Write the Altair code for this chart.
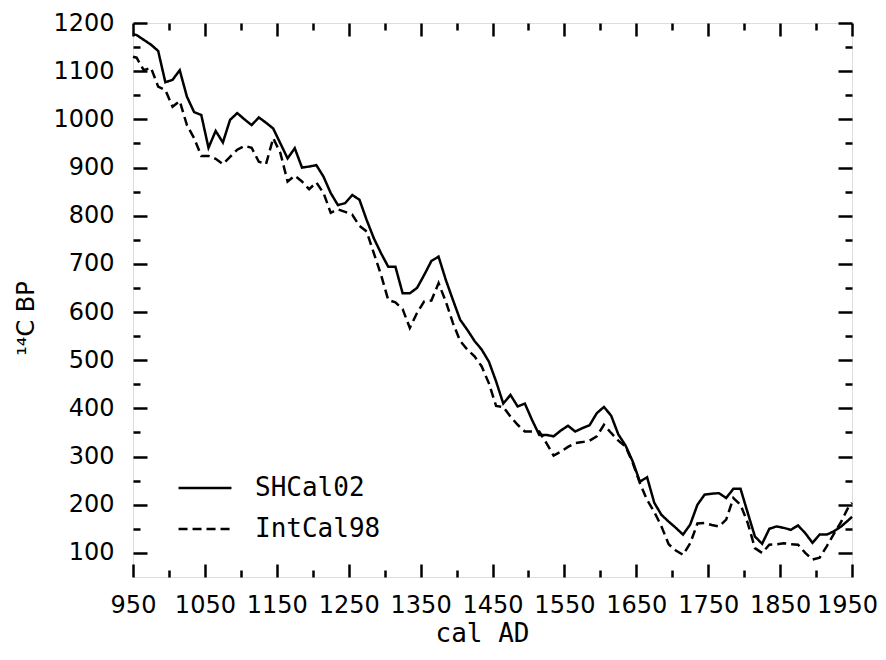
import altair as alt
import pandas as pd

# Calendar years (cal AD) of the curve vertices
years = [950, 955] + list(range(965, 1946, 10)) + [1950]

shcal02 = [
    1177, 1175, 1165, 1155, 1142, 1077, 1082, 1102, 1047, 1015,
    1009, 941, 976, 952, 999, 1013, 1000, 988, 1004, 993,
    981, 950, 919, 940, 900, 902, 905, 881, 847, 822,
    826, 843, 833, 791, 753, 722, 694, 694, 639, 639,
    650, 677, 706, 715, 667, 625, 584, 563, 540, 522,
    497, 456, 410, 428, 404, 410, 376, 345, 345, 342,
    354, 364, 352, 359, 365, 390, 403, 385, 346, 323,
    290, 248, 257, 204, 179, 165, 152, 138, 159, 200,
    221, 223, 224, 214, 233, 233, 183, 134, 119, 150,
    155, 152, 148, 157, 141, 121, 138, 138, 145, 155,
    168, 175,
]

intcal98 = [
    1130, 1128, 1102, 1107, 1068, 1061, 1026, 1038, 988, 961,
    924, 924, 918, 907, 922, 937, 945, 941, 912, 907,
    961, 930, 871, 883, 871, 855, 869, 847, 806, 813,
    808, 802, 779, 767, 722, 677, 625, 620, 606, 567,
    598, 622, 624, 660, 622, 577, 540, 522, 508, 487,
    452, 405, 403, 383, 366, 352, 352, 352, 328, 302,
    310, 320, 328, 330, 333, 342, 366, 349, 333, 321,
    287, 245, 210, 185, 155, 118, 105, 96, 120, 161,
    162, 158, 155, 169, 214, 200, 162, 110, 100, 117,
    118, 120, 118, 117, 100, 86, 90, 114, 140, 165,
    195, 204,
]

series_names = ["SHCal02", "IntCal98"]
x_ticks = list(range(950, 1951, 50))
y_ticks = list(range(100, 1201, 50))

assert len(years) == len(shcal02) == len(intcal98)

rows = []
for name, vals in zip(series_names, [shcal02, intcal98]):
    for yr, v in zip(years, vals):
        rows.append({"year": yr, "c14": v, "series": name})
df = pd.DataFrame(rows)

NUM_FONT = "DejaVu Sans"
MONO_FONT = "DejaVu Sans Mono"

x_scale = alt.Scale(domain=[950, 1950], nice=False, zero=False)
y_scale = alt.Scale(domain=[50, 1200], nice=False, zero=False)

x_tick_size = {"expr": "datum.value % 100 == 50 ? -13 : -7"}
y_tick_size = {"expr": "datum.value % 100 == 0 ? -14 : -7"}

x_axis_bottom = alt.Axis(
    orient="bottom", values=x_ticks, format="d",
    labelExpr="datum.value % 100 == 50 ? datum.label : ''",
    tickSize=x_tick_size, tickWidth=2.5, tickColor="black",
    domain=False, grid=False, labelFlush=False, labelOverlap=False,
    labelFont=NUM_FONT, labelFontSize=24, labelColor="black",
    labelPadding=29, labelBaseline="top",
    labelOffset={"expr": "datum.value == 1950 ? -5 : 0"},
    title="cal AD", titleFont=MONO_FONT, titleFontSize=26,
    titleFontWeight="normal", titleColor="black",
    titleY=64, titleBaseline="alphabetic", titleX=349,
)
y_axis_left = alt.Axis(
    orient="left", values=y_ticks, format="d",
    labelExpr="datum.value % 100 == 0 ? datum.label : ''",
    tickSize=y_tick_size, tickWidth=2.5, tickColor="black",
    domain=False, grid=False, labelFlush=False, labelOverlap=False,
    labelFont=NUM_FONT, labelFontSize=24, labelColor="black",
    labelPadding=33,
    title="\u00b9\u2074C BP", titleFont=NUM_FONT, titleFontSize=24,
    titleFontWeight="normal", titleColor="black",
    titleX=-107, titleY=295, titleBaseline="middle",
)
x_axis_top = alt.Axis(
    orient="top", values=x_ticks, labels=False, title=None,
    tickSize=x_tick_size, tickWidth=2.5, tickColor="black",
    domain=False, grid=False,
)
y_axis_right = alt.Axis(
    orient="right", values=y_ticks, labels=False, title=None,
    tickSize=y_tick_size, tickWidth=2.5, tickColor="black",
    domain=False, grid=False,
)

lines = alt.Chart(df).mark_line(strokeWidth=2.5, color="black").encode(
    x=alt.X("year:Q", scale=x_scale, axis=x_axis_bottom),
    y=alt.Y("c14:Q", scale=y_scale, axis=y_axis_left),
    strokeDash=alt.StrokeDash(
        "series:N",
        scale=alt.Scale(domain=series_names, range=[[1, 0], [9, 5]]),
        legend=alt.Legend(
            title=None, orient="none", legendX=44, legendY=437,
            symbolType="stroke", symbolSize=2800, symbolStrokeWidth=2.5,
            symbolStrokeColor="black",
            labelFont=MONO_FONT, labelFontSize=26, labelColor="black",
            labelOffset=22, rowPadding={"expr": "-17"}, padding=0,
        ),
    ),
    order="year:Q",
)

mirror = alt.Chart(df).mark_line(opacity=0).encode(
    x=alt.X("year:Q", scale=x_scale, axis=x_axis_top),
    y=alt.Y("c14:Q", scale=y_scale, axis=y_axis_right),
    detail="series:N",
)

chart = alt.layer(lines, mirror).resolve_axis(
    x="independent", y="independent"
).properties(
    width=719, height=554,
    padding={"left": 125, "top": 15, "right": 26, "bottom": 70},
    autosize=alt.AutoSizeParams(type="none"),
).configure_view(
    stroke="black", strokeWidth=3
).configure(background="white")

chart.save("out.html", embed_options={"renderer": "svg", "actions": False})
